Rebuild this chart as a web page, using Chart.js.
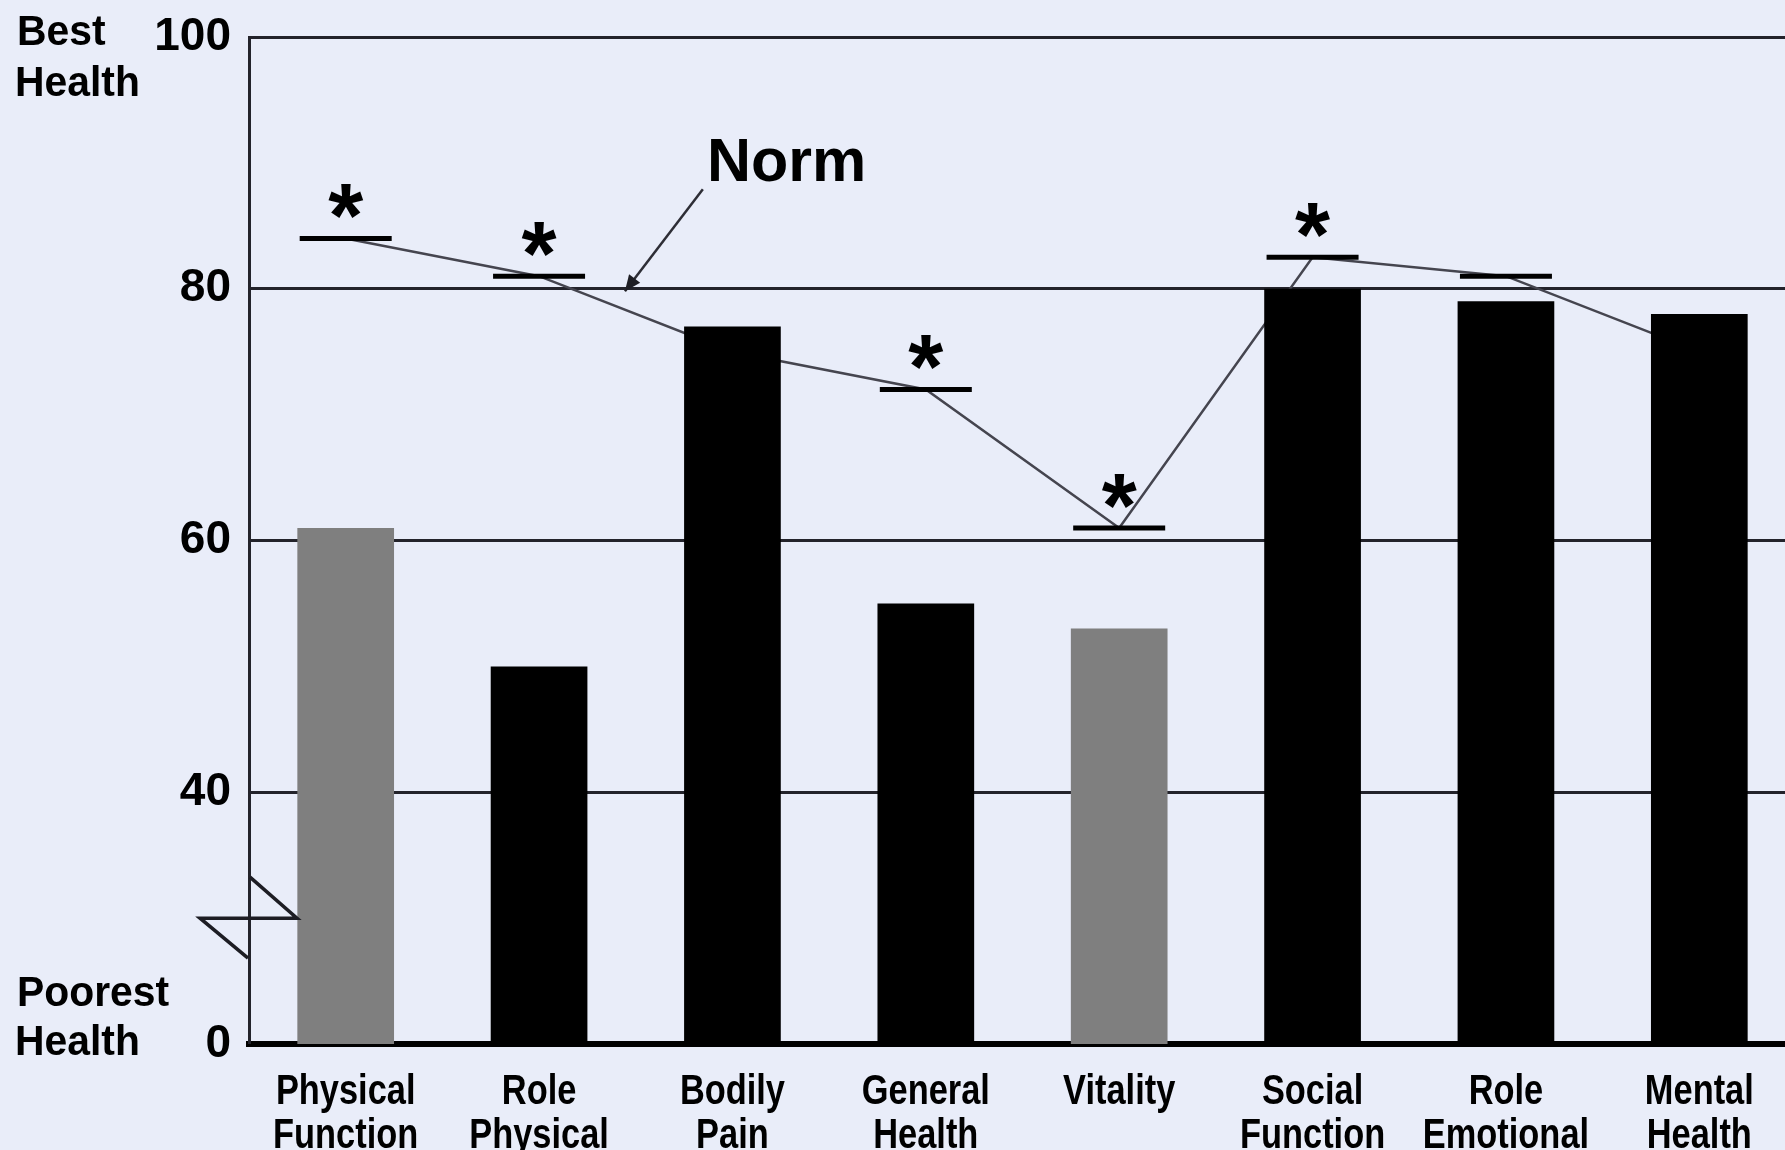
<!DOCTYPE html>
<html>
<head>
<meta charset="utf-8">
<script src="https://cdn.jsdelivr.net/npm/chart.js@4.4.1/dist/chart.umd.min.js"></script>
<style>
  html, body { margin: 0; padding: 0; background: #e9edf9; overflow: hidden; width: 1785px; height: 1150px; }
  #wrap { width: 1800px; height: 1150px; }
</style>
</head>
<body>
<div id="wrap"><canvas id="chart" width="1800" height="1150"></canvas></div>
<script>
// SF-36 domain scores against population norm
const categories = [
  ['Physical', 'Function'], ['Role', 'Physical'], ['Bodily', 'Pain'], ['General', 'Health'],
  ['Vitality'], ['Social', 'Function'], ['Role', 'Emotional'], ['Mental', 'Health']
];
const patientScores = [61, 50, 77, 55, 53, 80, 79, 78];
const normScores = [84, 81, 75, 72, 61, 82.5, 81, 75];
const significant = [true, true, false, true, true, true, false, false];
const shadedDomains = [true, false, false, false, true, false, false, false];

// broken y axis: the 0–40 stretch is squeezed into one step, so the bottom tick reads 0
const axisFloor = 20;
const axisCeiling = 100;
const yTickLabels = ['0', '40', '60', '80', '100'];

const FONT = '"Liberation Sans", Arial, sans-serif';
const INK = '#000000';
const RULE = '#23232b';

function drawSquashed(ctx, text, x, y, sx, align) {
  ctx.save();
  ctx.translate(x, y);
  ctx.scale(sx, 1);
  ctx.textAlign = align;
  ctx.fillText(text, 0, 0);
  ctx.restore();
}

const decorations = {
  id: 'decorations',
  beforeDraw(chart) {
    const { ctx, width, height } = chart;
    ctx.save();
    ctx.fillStyle = '#e9edf9';
    ctx.fillRect(0, 0, width, height);
    ctx.restore();
  },
  afterDraw(chart) {
    const { ctx, chartArea: area } = chart;
    const xs = chart.scales.x, ys = chart.scales.y;
    ctx.save();
    ctx.fillStyle = INK;
    ctx.textBaseline = 'alphabetic';

    // category labels under the axis
    ctx.font = 'bold 43px ' + FONT;
    categories.forEach((lines, i) => {
      const x = xs.getPixelForTick(i);
      lines.forEach((t, j) => drawSquashed(ctx, t, x, area.bottom + 60 + j * 44, 0.8, 'center'));
    });

    // axis end captions
    ctx.font = 'bold 43px ' + FONT;
    drawSquashed(ctx, 'Best', 17, area.top + 8, 0.95, 'left');
    drawSquashed(ctx, 'Health', 15, area.top + 59, 0.95, 'left');
    drawSquashed(ctx, 'Poorest', 17, area.bottom - 38, 0.95, 'left');
    drawSquashed(ctx, 'Health', 15, area.bottom + 11, 0.95, 'left');

    // significance asterisks over the norm markers
    const normMeta = chart.getDatasetMeta(1);
    ctx.font = 'bold 90px ' + FONT;
    ctx.textAlign = 'center';
    const m = ctx.measureText('*');
    const half = (m.actualBoundingBoxAscent - m.actualBoundingBoxDescent) / 2;
    normMeta.data.forEach((pt, i) => {
      if (!significant[i]) return;
      ctx.fillText('*', pt.x, pt.y - 37 + half);
    });

    // "Norm" callout with arrow
    const tx = xs.getPixelForValue(1.868), ty = ys.getPixelForValue(88.55);
    ctx.font = 'bold 61px ' + FONT;
    ctx.textAlign = 'left';
    ctx.fillText('Norm', tx, ty);
    const ax0 = xs.getPixelForValue(1.847), ay0 = ys.getPixelForValue(87.9);
    const ax1 = xs.getPixelForValue(1.444), ay1 = ys.getPixelForValue(79.8);
    ctx.strokeStyle = '#2e2e36';
    ctx.lineWidth = 2.5;
    ctx.beginPath();
    ctx.moveTo(ax0, ay0);
    ctx.lineTo(ax1, ay1);
    ctx.stroke();
    const ang = Math.atan2(ay1 - ay0, ax1 - ax0);
    const hl = 16, hw = 7;
    ctx.fillStyle = '#1e1e24';
    ctx.beginPath();
    ctx.moveTo(ax1, ay1);
    ctx.lineTo(ax1 - hl * Math.cos(ang) + hw * Math.sin(ang), ay1 - hl * Math.sin(ang) - hw * Math.cos(ang));
    ctx.lineTo(ax1 - hl * Math.cos(ang) - hw * Math.sin(ang), ay1 - hl * Math.sin(ang) + hw * Math.cos(ang));
    ctx.closePath();
    ctx.fill();

    // axis break zig-zag
    const bx = area.left, by = ys.getPixelForValue(30);
    ctx.strokeStyle = '#1d1d24';
    ctx.lineWidth = 3.5;
    ctx.lineJoin = 'miter';
    ctx.beginPath();
    ctx.moveTo(bx + 1, by - 41);
    ctx.lineTo(bx + 48, by);
    ctx.lineTo(bx - 49, by);
    ctx.lineTo(bx - 1, by + 40);
    ctx.stroke();
    ctx.restore();
  }
};

new Chart(document.getElementById('chart'), {
  data: {
    labels: categories,
    datasets: [
      {
        type: 'bar',
        data: patientScores,
        backgroundColor: shadedDomains.map(s => s ? '#7f7f7f' : '#000000'),
        borderWidth: 0,
        barPercentage: 0.5,
        categoryPercentage: 1.0,
        order: 1
      },
      {
        type: 'line',
        data: normScores,
        borderColor: '#45454f',
        borderWidth: 2.5,
        tension: 0,
        pointStyle: 'line',
        pointRadius: 46,
        pointHoverRadius: 46,
        pointBorderWidth: 5,
        pointBorderColor: INK,
        pointBackgroundColor: INK,
        order: 2
      }
    ]
  },
  options: {
    responsive: false,
    animation: false,
    events: [],
    devicePixelRatio: 1,
    layout: { autoPadding: false, padding: { left: 0, top: 37, right: 4, bottom: 0 } },
    plugins: { legend: { display: false }, tooltip: { enabled: false } },
    scales: {
      x: {
        z: 1,
        grid: { display: false, drawTicks: false },
        border: { display: true, color: INK, width: 6 },
        ticks: { display: false },
        afterFit(s) { s.height = 106; }
      },
      y: {
        min: axisFloor,
        max: axisCeiling,
        grid: {
          color: RULE,
          lineWidth: ctx => (ctx.tick && ctx.tick.value === axisFloor ? 0 : 3),
          drawTicks: false
        },
        border: { display: true, color: RULE, width: 3 },
        ticks: {
          stepSize: 20,
          padding: 18,
          color: INK,
          font: { family: FONT, size: 46, weight: 'bold' },
          callback: (v, i) => yTickLabels[i]
        },
        afterFit(s) {
          s.width = 249;
          s.paddingTop = 0;
          s.paddingBottom = 0;
        }
      }
    }
  },
  plugins: [decorations]
});
</script>
</body>
</html>
